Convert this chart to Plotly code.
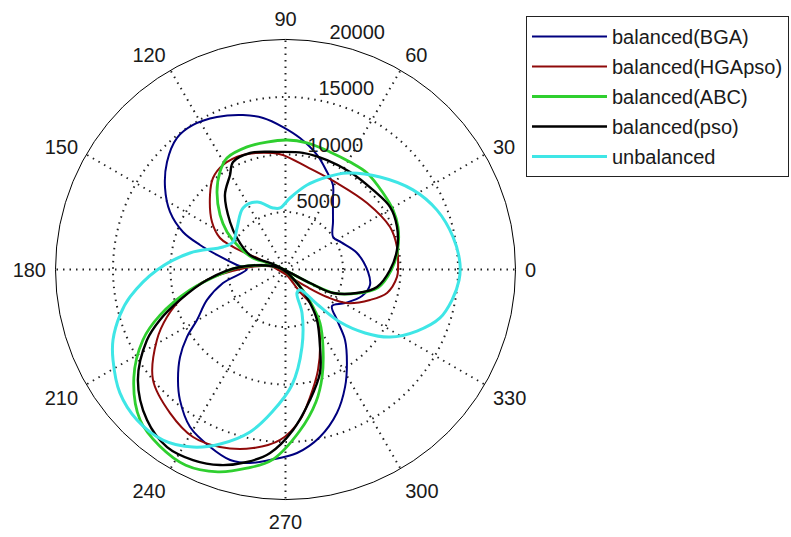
import plotly.graph_objects as go

# ---- data (angle in degrees, radius) ----
series_names = ["balanced(BGA)", "balanced(HGApso)", "balanced(ABC)", "balanced(pso)", "unbalanced"]

# BGA: one closed loop
theta_bga = [358.3, 13, 25.9, 34.4, 45, 55.7, 60.7, 66.9, 74.6, 83.7, 91, 98.4, 105.4, 114.2, 122.6,
             129.5, 137.8, 145.9, 153.5, 159.9, 164, 168, 174.7, 179.3, 192.2, 201.2, 209.7, 214.4,
             219.7, 225.8, 231, 238.8, 247, 253.8, 259.6, 265.3, 273.6, 281.6, 289.7, 296.9, 303.3,
             310.2, 315.6, 321.9, 330.6, 340.9, 349.6]
r_bga = [7180, 6380, 5400, 5010, 5840, 7320, 8430, 9210, 10330, 11500, 12390, 13320, 13930, 14540,
         14920, 14830, 13910, 12650, 11220, 9490, 7730, 6090, 4240, 3350, 5560, 7320, 8860, 10380,
         11920, 13410, 14590, 16020, 16770, 17250, 17110, 16620, 15990, 14870, 13260, 11450, 9730,
         8020, 6270, 5140, 5940, 7040, 7470]

# HGApso: upper loop and lower loop
theta_hga_up = [320.9, 326.5, 331.4, 340.2, 347, 356.2, 1.3, 11.4, 22.1, 39.2, 59.2, 78.2, 91.3, 96.1,
                110.4, 120.9, 128.4, 135.4, 147.1, 154.3, 156.2, 157.6, 158, 160]
r_hga_up = [2410, 4330, 6090, 7810, 9060, 9720, 9790, 9890, 9810, 9150, 8750, 9110, 9960, 10190,
            10620, 10590, 10150, 9220, 7610, 6320, 5270, 4000, 2670, 1900]
theta_hga_lo = [171.5, 177.9, 187.6, 195, 201.8, 208.7, 219.8, 231.2, 241.1, 249.7, 259.7, 268.2,
                275.5, 280.9, 287.9, 296.1, 303.6, 306.2, 302.8, 170]
r_hga_lo = [2070, 3520, 6890, 9230, 11100, 12750, 15000, 16020, 16640, 16450, 15780, 14830, 13150,
            11290, 9190, 6830, 4960, 3610, 2330, 500]

# ABC: upper loop and lower loop
theta_abc_up = [331, 334, 342, 349, 359.7, 9.9, 20.7, 29, 38.1, 49.8, 59, 69.3, 80.4, 89.3, 98.3,
                107.4, 117.7, 123.9, 131.5, 140.2, 147.3, 154.7, 160.5, 158]
r_abc_up = [2600, 4700, 6650, 8200, 9200, 9900, 10460, 10690, 10780, 10990, 10900, 10930, 11160,
            11260, 11200, 11170, 10950, 10220, 8990, 7410, 6040, 4380, 3000, 1100]
theta_abc_lo = [177, 183.2, 192.1, 200, 206.3, 215.5, 226, 234.5, 243, 251.5, 259, 266, 275, 283,
                289, 295.8, 302.8, 306.3, 310, 165]
r_abc_lo = [4000, 5440, 8490, 11610, 13830, 16200, 18200, 18850, 19100, 18550, 17600, 16600, 14100,
            11800, 9800, 7490, 5540, 4040, 2200, 500]

# pso: upper loop and lower loop
theta_pso_up = [331.1, 333.7, 341.8, 349.2, 359.7, 9.9, 20.9, 30.9, 42.3, 56.5, 69.2, 81.5, 94.1,
                106.9, 116, 120.4, 129.1, 139.4, 147, 157.8, 156.8]
r_pso_up = [2430, 4610, 6550, 8100, 9090, 9840, 10380, 10590, 10280, 10170, 10180, 10250, 10250,
            10590, 10400, 9530, 8350, 6350, 5030, 3340, 990]
theta_pso_lo = [176.9, 187.6, 196.1, 201.9, 207, 216.8, 227.4, 236.3, 244.1, 251.5, 258.7, 265.2,
                272.7, 280.6, 288.4, 294, 301.9, 306.2, 310.4, 165]
r_pso_lo = [3960, 6890, 9550, 11770, 13520, 16030, 17790, 18560, 18420, 17930, 17070, 16010, 13970,
            11550, 9490, 7380, 5180, 3610, 1540, 500]

# unbalanced: one closed loop
theta_unb = [2, 11, 21.4, 32, 44.4, 57.5, 65.8, 75.7, 86.4, 95, 101.5, 112.9, 124.6, 139.4, 152.4,
             160.2, 170.2, 180.2, 190, 195.4, 202.2, 207.7, 216.7, 225.4, 234.3, 242.5, 249.5, 257.7,
             264.6, 273.2, 282, 290.8, 296, 305.3, 312.5, 316, 321.4, 327.1, 334.9, 342.6, 349.6, 356.5]
r_unb = [15180, 14840, 14150, 13070, 11500, 9950, 8820, 7580, 6230, 5370, 5460, 6370, 6500, 5550,
         5150, 5780, 8430, 11170, 13730, 14930, 16200, 16940, 17960, 18390, 18260, 17410, 16200,
         14460, 12450, 10060, 6890, 4045, 2270, 2180, 4190, 6580, 8850, 10820, 12620, 14080, 14720,
         15120]

radial_ticks = [5000, 10000, 15000, 20000]
radial_label_angle = 79
angle_ticks = [0, 30, 60, 90, 120, 150, 180, 210, 240, 270, 300, 330]
angle_labels = ["0", "30", "60", "90", "120", "150", "180", "210", "240", "270", "300", "330"]

colors = ["#00007f", "#8f0a0a", "#2fcf2f", "#000000", "#3fe6e6"]
widths = [2, 2, 2.8, 2.4, 3]

loops = [
    [(theta_bga, r_bga)],
    [(theta_hga_up, r_hga_up), (theta_hga_lo, r_hga_lo)],
    [(theta_abc_up, r_abc_up), (theta_abc_lo, r_abc_lo)],
    [(theta_pso_up, r_pso_up), (theta_pso_lo, r_pso_lo)],
    [(theta_unb, r_unb)],
]

FONT = "Liberation Sans, Arial, sans-serif"
TXT = "#1a1a1a"

fig = go.Figure()
for i, name in enumerate(series_names):
    th_all, r_all = [], []
    for th, rr in loops[i]:
        if th_all:
            th_all.append(None)
            r_all.append(None)
        th_all += th + [th[0]]
        r_all += rr + [rr[0]]
    fig.add_trace(go.Scatterpolar(
        r=r_all, theta=th_all, mode="lines", name=name,
        legendgroup=name, connectgaps=False,
        line=dict(color=colors[i], width=widths[i], shape="spline", smoothing=1.0),
        hoverinfo="skip",
    ))

# radial tick labels drawn as text at their radii
fig.add_trace(go.Scatterpolar(
    r=radial_ticks, theta=[radial_label_angle] * len(radial_ticks),
    mode="text", text=[str(v) for v in radial_ticks], textposition="top right",
    textfont=dict(family=FONT, size=20, color=TXT),
    showlegend=False, hoverinfo="skip", cliponaxis=False,
))

fig.update_layout(
    width=791, height=537,
    margin=dict(l=0, r=0, t=0, b=0),
    paper_bgcolor="white",
    font=dict(family=FONT, size=20, color=TXT),
    showlegend=True,
    legend=dict(
        x=526 / 791, y=1 - 16 / 537, xanchor="left", yanchor="top",
        bgcolor="white", bordercolor="#222222", borderwidth=1,
        font=dict(family=FONT, size=20, color=TXT),
        traceorder="grouped", tracegroupgap=1,
        itemwidth=75,
    ),
    polar=dict(
        domain=dict(x=[55.5 / 791, 515.5 / 791], y=[1 - 499.5 / 537, 1 - 39.5 / 537]),
        bgcolor="white",
        radialaxis=dict(
            range=[0, 20000], tickvals=radial_ticks, showticklabels=False,
            showline=False, ticks="",
            showgrid=True, gridcolor="#222222", gridwidth=1.5, griddash="1.5px,5px",
        ),
        angularaxis=dict(
            direction="counterclockwise", rotation=0,
            tickvals=angle_ticks, ticktext=angle_labels,
            showgrid=True, gridcolor="#222222", gridwidth=1.5, griddash="1.5px,5px",
            showline=True, linecolor="black", linewidth=1,
            ticks="outside", ticklen=5, tickcolor="rgba(0,0,0,0)",
            tickfont=dict(family=FONT, size=20, color=TXT),
        ),
    ),
)

fig.write_html("out.html", config={"displayModeBar": False},
               post_script="document.body.style.margin='0px';")
